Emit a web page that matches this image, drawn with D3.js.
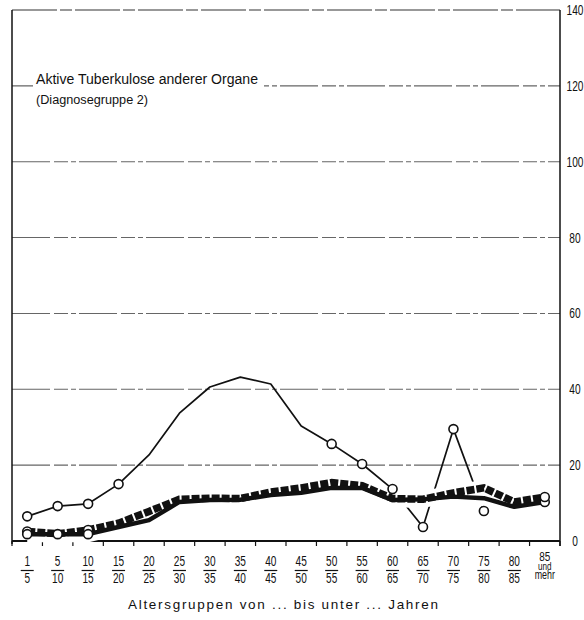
<!DOCTYPE html>
<html>
<head>
<meta charset="utf-8">
<script src="https://cdn.jsdelivr.net/npm/d3@7"></script>
<style>
  html, body { margin: 0; padding: 0; background: #fff; }
  svg { display: block; }
  text { font-family: "Liberation Sans", "DejaVu Sans", sans-serif; fill: #111; }
</style>
</head>
<body>
<svg id="chart" width="584" height="620"></svg>
<script>
// ---- data ----
const ageFrom = ["1","5","10","15","20","25","30","35","40","45","50","55","60","65","70","75","80","85"];
const ageTo   = ["5","10","15","20","25","30","35","40","45","50","55","60","65","70","75","80","85","mehr"];
const yTicks  = [0, 20, 40, 60, 80, 100, 120, 140];

// thin line with open circles
const seriesThin   = [6.5, 9.2, 9.8, 15, 22.7, 33.7, 40.6, 43.2, 41.4, 30.3, 25.6, 20.3, 13.7, 3.7, 29.5, 7.9, null, 10.3];
const circlesThin  = [0, 1, 2, 3, 10, 11, 12, 13, 14, 15, 17];
// heavy dashed line
const seriesDashed = [2.5, 1.9, 2.9, 4.7, 7.8, 11.0, 11.3, 11.2, 12.9, 14.0, 15.4, 14.6, 11.2, 11.0, 12.7, 14.0, 10.3, 11.6];
const circlesDashed = [0, 2, 17];
// heavy solid line
const seriesSolid  = [1.8, 1.8, 1.8, 3.7, 5.5, 10.3, 10.8, 10.9, 12.1, 12.7, 14.0, 14.0, 10.8, 11.0, 11.7, 11.3, 9.0, 10.3];
const circlesSolid = [0, 1, 2];

const title1 = "Aktive Tuberkulose anderer Organe";
const title2 = "(Diagnosegruppe 2)";
const xTitle = "Altersgruppen von ... bis unter ... Jahren";

// ---- layout ----
const svg = d3.select("#chart");
const mLeft = 12, mRight = 560, mTop = 10, mBottom = 541;

const x = d3.scaleBand().domain(d3.range(ageFrom.length)).range([mLeft, mRight]).padding(0);
const y = d3.scaleLinear().domain([0, 140]).range([mBottom, mTop]);
const cx = i => x(i) + x.bandwidth() / 2;

// condensed text helper
function ctext(parent, tx, ty, str, size, anchor, sx) {
  return parent.append("text")
    .attr("transform", `translate(${tx},${ty}) scale(${sx || 0.72},1)`)
    .attr("text-anchor", anchor || "start")
    .attr("font-size", size)
    .text(str);
}

// gridlines
svg.append("g").selectAll("line").data(yTicks.filter(v => v > 0)).join("line")
  .attr("x1", mLeft).attr("x2", mRight)
  .attr("y1", d => y(d)).attr("y2", d => y(d))
  .attr("stroke", d => d === 140 ? "#333" : "#666")
  .attr("stroke-width", 1.1)
  .attr("stroke-dasharray", d => d === 140 ? "45,3,12,3" : "38,4,14,3,5,3");

// title with white backing that interrupts the 120 gridline
svg.append("rect").attr("x", 33).attr("y", y(120) - 4).attr("width", 231).attr("height", 8).attr("fill", "#fff");
svg.append("text").attr("x", 36).attr("y", y(120) - 2).attr("font-size", 15.5)
  .attr("textLength", 222).attr("lengthAdjust", "spacingAndGlyphs").text(title1);
svg.append("text").attr("x", 36).attr("y", y(120) + 18).attr("font-size", 12.5)
  .attr("textLength", 112).attr("lengthAdjust", "spacingAndGlyphs").text(title2);

// axes
svg.append("line").attr("x1", mLeft).attr("x2", mLeft).attr("y1", mTop).attr("y2", mBottom + 3)
  .attr("stroke", "#111").attr("stroke-width", 1.5);
svg.append("line").attr("x1", mRight).attr("x2", mRight).attr("y1", mTop).attr("y2", mBottom + 5)
  .attr("stroke", "#111").attr("stroke-width", 1.5);
svg.append("line").attr("x1", mLeft).attr("x2", mRight).attr("y1", mBottom).attr("y2", mBottom)
  .attr("stroke", "#111").attr("stroke-width", 1.8);

// bottom ticks at band boundaries
const bounds = d3.range(ageFrom.length + 1).map(i => i < ageFrom.length ? x(i) : mRight);
svg.append("g").selectAll("line").data(bounds).join("line")
  .attr("x1", d => d).attr("x2", d => d)
  .attr("y1", mBottom).attr("y2", mBottom + 5)
  .attr("stroke", "#111").attr("stroke-width", 1.2);

// right tick labels
const yl = svg.append("g");
yTicks.forEach(v => ctext(yl, 575, y(v) + 5, v, 14.5, "middle", 0.7));

// x labels (fractions)
const xl = svg.append("g");
ageFrom.forEach((t, i) => {
  const c = cx(i);
  if (i < ageFrom.length - 1) {
    ctext(xl, c, 566, t, 14, "middle", 0.72);
    xl.append("line").attr("x1", c - 6.5).attr("x2", c + 6.5).attr("y1", 570.5).attr("y2", 570.5)
      .attr("stroke", "#111").attr("stroke-width", 1.2);
    ctext(xl, c, 583, ageTo[i], 14, "middle", 0.72);
  } else {
    const tt = xl.append("text")
      .attr("transform", `translate(${c},561) scale(0.74,1)`)
      .attr("text-anchor", "middle");
    tt.append("tspan").attr("x", 0).attr("y", 0).attr("font-size", 13.5).text(t);
    tt.append("tspan").attr("x", 0).attr("y", 8.5).attr("font-size", 11).text("und");
    tt.append("tspan").attr("x", 0).attr("y", 18.5).attr("font-size", 12).text(ageTo[i]);
  }
});

svg.append("text").attr("x", 128).attr("y", 609)
  .attr("font-size", 13.5).attr("textLength", 310).attr("lengthAdjust", "spacing").text(xTitle);

// lines
const line = d3.line().defined(d => d != null).x((d, i) => cx(i)).y(d => y(d));
const lineAll = d3.line().x((d, i) => cx(i)).y(d => y(d));

svg.append("path").datum(seriesThin).attr("d", line)
  .attr("fill", "none").attr("stroke", "#111").attr("stroke-width", 1.7).attr("stroke-linejoin", "round");

// white halo of heavy lines (interrupts thin line where crossing)
[seriesDashed, seriesSolid].forEach(s => {
  svg.append("path").datum(s).attr("d", lineAll)
    .attr("fill", "none").attr("stroke", "#fff").attr("stroke-width", 16).attr("stroke-linejoin", "round");
});

svg.append("path").datum(seriesDashed).attr("d", lineAll)
  .attr("fill", "none").attr("stroke", "#111").attr("stroke-width", 7.5)
  .attr("stroke-dasharray", "8,2");
svg.append("path").datum(seriesSolid).attr("d", lineAll)
  .attr("fill", "none").attr("stroke", "#111").attr("stroke-width", 4.5).attr("stroke-linejoin", "round");

// circles
function circles(series, idx) {
  svg.append("g").selectAll("circle").data(idx).join("circle")
    .attr("cx", i => cx(i)).attr("cy", i => y(series[i])).attr("r", 4.5)
    .attr("fill", "#fff").attr("stroke", "#111").attr("stroke-width", 1.6);
}
circles(seriesThin, circlesThin);
circles(seriesDashed, circlesDashed);
circles(seriesSolid, circlesSolid);
</script>
</body>
</html>
